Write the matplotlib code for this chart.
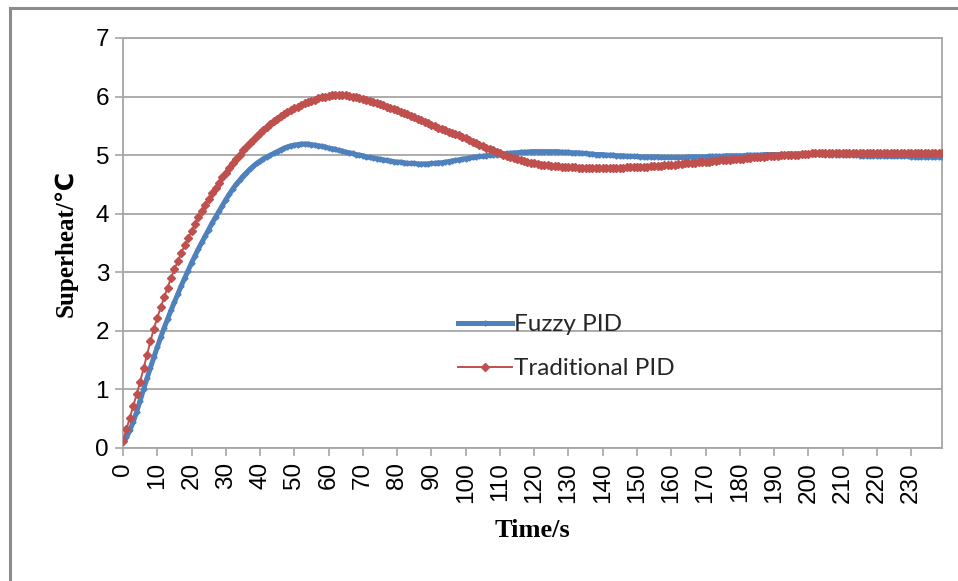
import matplotlib
matplotlib.use("Agg")
import matplotlib.pyplot as plt
from matplotlib.lines import Line2D
import numpy as np

# time axis, one sample per second
time_s = list(range(240))

# Fuzzy PID response (1 s step)
fuzzy_pid = [
    0.10, 0.18, 0.30, 0.45, 0.62, 0.81, 1.00, 1.19, 1.37, 1.55,
    1.72, 1.89, 2.05, 2.20, 2.35, 2.49, 2.63, 2.77, 2.90, 3.03,
    3.16, 3.28, 3.40, 3.51, 3.62, 3.73, 3.84, 3.94, 4.04, 4.14,
    4.24, 4.33, 4.42, 4.50, 4.57, 4.64, 4.70, 4.76, 4.81, 4.86,
    4.90, 4.94, 4.97, 5.00, 5.03, 5.06, 5.09, 5.12, 5.14, 5.16,
    5.17, 5.18, 5.19, 5.19, 5.19, 5.18, 5.17, 5.16, 5.15, 5.14,
    5.12, 5.11, 5.10, 5.08, 5.07, 5.05, 5.04, 5.03, 5.01, 5.00,
    4.99, 4.97, 4.96, 4.95, 4.94, 4.93, 4.92, 4.91, 4.90, 4.89,
    4.88, 4.88, 4.87, 4.86, 4.86, 4.86, 4.85, 4.85, 4.85, 4.85,
    4.86, 4.86, 4.87, 4.87, 4.88, 4.89, 4.90, 4.91, 4.92, 4.93,
    4.94, 4.95, 4.96, 4.97, 4.98, 4.98, 4.99, 5.00, 5.00, 5.01,
    5.02, 5.02, 5.03, 5.03, 5.04, 5.04, 5.05, 5.05, 5.05, 5.06,
    5.06, 5.06, 5.06, 5.06, 5.06, 5.06, 5.06, 5.06, 5.05, 5.05,
    5.05, 5.04, 5.04, 5.04, 5.03, 5.03, 5.02, 5.02, 5.01, 5.01,
    5.01, 5.00, 5.00, 5.00, 4.99, 4.99, 4.99, 4.98, 4.98, 4.98,
    4.98, 4.97, 4.97, 4.97, 4.97, 4.97, 4.97, 4.96, 4.96, 4.96,
    4.96, 4.96, 4.96, 4.96, 4.96, 4.97, 4.97, 4.97, 4.97, 4.97,
    4.97, 4.98, 4.98, 4.98, 4.98, 4.98, 4.99, 4.99, 4.99, 4.99,
    4.99, 4.99, 5.00, 5.00, 5.00, 5.00, 5.00, 5.01, 5.01, 5.01,
    5.01, 5.01, 5.01, 5.01, 5.02, 5.02, 5.02, 5.02, 5.02, 5.02,
    5.02, 5.02, 5.02, 5.02, 5.02, 5.01, 5.01, 5.01, 5.01, 5.01,
    5.00, 5.00, 5.00, 5.00, 5.00, 4.99, 4.99, 4.99, 4.99, 4.99,
    4.99, 4.99, 4.98, 4.98, 4.98, 4.98, 4.98, 4.98, 4.98, 4.98,
    4.97, 4.97, 4.97, 4.97, 4.97, 4.97, 4.97, 4.97, 4.97, 4.97,
]

# Traditional PID response (1 s step)
traditional_pid = [
    0.12, 0.32, 0.52, 0.72, 0.92, 1.13, 1.36, 1.59, 1.82, 2.04,
    2.22, 2.40, 2.57, 2.74, 2.90, 3.05, 3.19, 3.33, 3.46, 3.58,
    3.70, 3.82, 3.94, 4.05, 4.15, 4.25, 4.35, 4.44, 4.53, 4.62,
    4.70, 4.78, 4.86, 4.94, 5.01, 5.08, 5.14, 5.20, 5.26, 5.32,
    5.38, 5.43, 5.48, 5.53, 5.58, 5.62, 5.66, 5.70, 5.74, 5.77,
    5.80, 5.83, 5.86, 5.89, 5.91, 5.93, 5.95, 5.97, 5.99, 6.00,
    6.01, 6.02, 6.03, 6.03, 6.02, 6.02, 6.01, 6.00, 5.99, 5.97,
    5.96, 5.94, 5.93, 5.91, 5.89, 5.87, 5.85, 5.83, 5.81, 5.79,
    5.77, 5.74, 5.72, 5.70, 5.67, 5.65, 5.62, 5.60, 5.57, 5.55,
    5.52, 5.50, 5.47, 5.45, 5.43, 5.40, 5.38, 5.36, 5.34, 5.31,
    5.29, 5.26, 5.23, 5.21, 5.18, 5.16, 5.13, 5.11, 5.08, 5.06,
    5.03, 5.01, 4.99, 4.97, 4.95, 4.93, 4.92, 4.90, 4.89, 4.87,
    4.86, 4.85, 4.84, 4.83, 4.83, 4.82, 4.81, 4.81, 4.80, 4.80,
    4.79, 4.79, 4.79, 4.78, 4.78, 4.78, 4.78, 4.78, 4.78, 4.78,
    4.78, 4.78, 4.78, 4.78, 4.78, 4.78, 4.78, 4.79, 4.79, 4.79,
    4.79, 4.80, 4.80, 4.80, 4.81, 4.81, 4.82, 4.82, 4.83, 4.83,
    4.84, 4.84, 4.85, 4.85, 4.86, 4.86, 4.87, 4.87, 4.88, 4.88,
    4.89, 4.89, 4.90, 4.90, 4.91, 4.91, 4.92, 4.92, 4.93, 4.93,
    4.94, 4.94, 4.95, 4.95, 4.96, 4.96, 4.97, 4.97, 4.98, 4.98,
    4.99, 4.99, 5.00, 5.00, 5.00, 5.01, 5.01, 5.01, 5.02, 5.02,
    5.02, 5.03, 5.03, 5.03, 5.03, 5.03, 5.03, 5.03, 5.03, 5.03,
    5.04, 5.04, 5.04, 5.04, 5.04, 5.04, 5.04, 5.04, 5.04, 5.04,
    5.04, 5.04, 5.04, 5.04, 5.04, 5.04, 5.04, 5.04, 5.04, 5.04,
    5.04, 5.04, 5.04, 5.04, 5.04, 5.04, 5.04, 5.04, 5.04, 5.04,
]

x_ticks = list(range(0, 240, 10))
y_ticks = list(range(0, 8))

BLUE = "#4f81bd"
RED = "#c0504d"
GRID = "#a6a6a6"

W, H = 958, 581
fig = plt.figure(figsize=(W / 100, H / 100), dpi=100)
# plot area in pixels: left 123, right 942, top 38, bottom 448
ax = fig.add_axes([123 / W, 1 - 448 / H, (942 - 123) / W, (448 - 38) / H])

ax.plot(time_s, fuzzy_pid, color=BLUE, lw=3.6, marker="D", ms=2.6,
        mec=BLUE, mfc=BLUE, label="Fuzzy PID", zorder=3)
ax.plot(time_s, traditional_pid, color=RED, lw=1.4, marker="D", ms=4.4,
        mec=RED, mfc=RED, label="Traditional PID", zorder=4)

ax.set_xlim(0, 239)
ax.set_ylim(0, 7)
ax.set_xticks(x_ticks)
ax.set_xticklabels([str(v) for v in x_ticks], rotation=90,
                   family="Liberation Sans", fontsize=17.5)
ax.set_yticks(y_ticks)
ax.set_yticklabels([str(v) for v in y_ticks], family="Liberation Sans", fontsize=17.5)
ax.tick_params(axis="both", direction="out", length=6, width=1.2, color=GRID, pad=4)

ax.grid(axis="y", color=GRID, lw=1.3)
ax.set_axisbelow(True)
for s in ax.spines.values():
    s.set_color(GRID)
    s.set_linewidth(1.3)

ax.set_ylabel("Superheat/℃", family=["Liberation Serif", "DejaVu Sans"],
              fontweight="bold", fontsize=18, labelpad=13)
ax.set_xlabel("Time/s", family="Liberation Serif", fontweight="bold",
              fontsize=19, labelpad=12)

leg = ax.legend(loc="upper left", bbox_to_anchor=(446 / W, 1 - 302 / H),
                bbox_transform=fig.transFigure, frameon=False,
                prop={"family": "Lato", "size": 17.5}, handlelength=2.2,
                handletextpad=0.1, labelspacing=0.95, borderpad=0)
for t in leg.get_texts():
    t.set_color("#262626")

# outer chart border (left and top visible)
fig.add_artist(Line2D([9.5 / W, 9.5 / W], [0, 1 - 8 / H], transform=fig.transFigure,
                      color="#8c8c8c", lw=2.2))
fig.add_artist(Line2D([9.5 / W, 1], [1 - 8 / H, 1 - 8 / H], transform=fig.transFigure,
                      color="#8c8c8c", lw=2.2))

fig.savefig("out.png", dpi=100)
